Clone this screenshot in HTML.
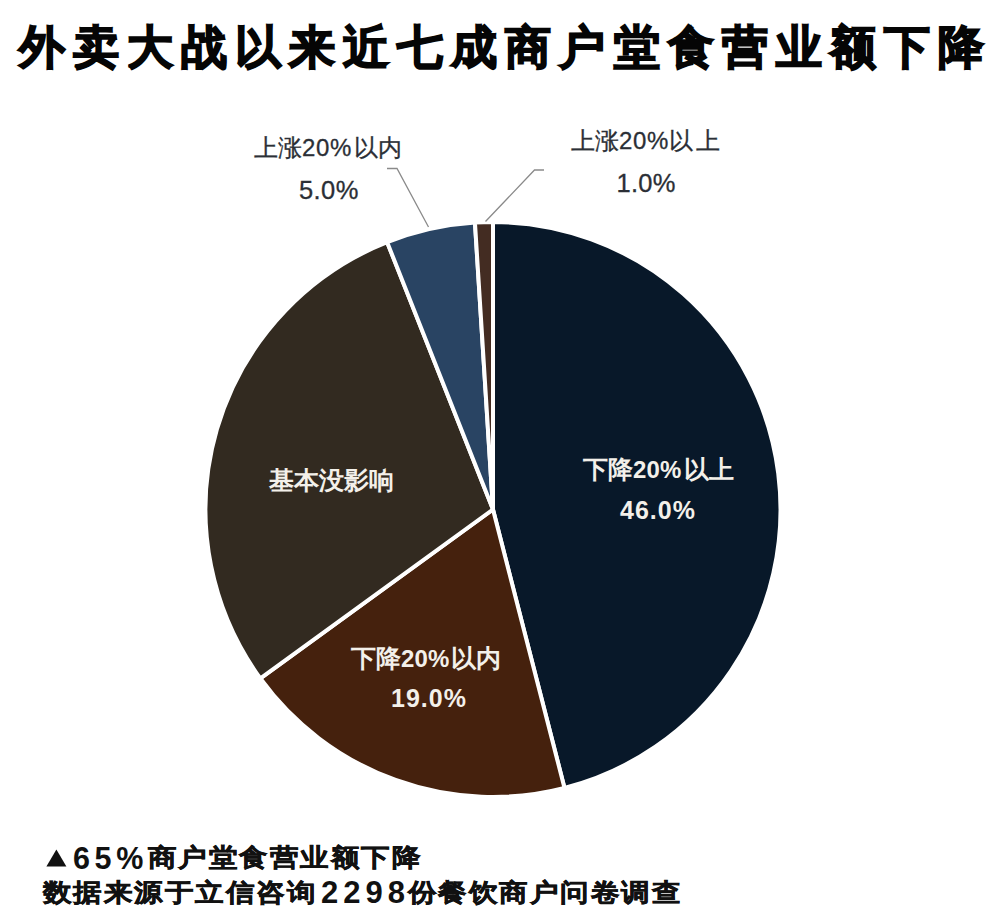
<!DOCTYPE html>
<html><head><meta charset="utf-8">
<style>
html,body{margin:0;padding:0;background:#fff;}
body{width:1000px;height:910px;position:relative;overflow:hidden;font-family:"Liberation Sans",sans-serif;}
.t{position:absolute;white-space:nowrap;line-height:1;}
#title{left:18.5px;top:24px;font-size:46px;letter-spacing:8.1px;font-weight:bold;color:#050505;-webkit-text-stroke:1.7px #050505;}
.lbl{color:#2b2f36;font-size:24px;-webkit-text-stroke:0.3px #2b2f36;}
.in{color:#f3f0ea;font-size:25px;font-weight:bold;}
.fd{color:#111;font-size:30.5px;font-weight:bold;}
.f{color:#111;font-size:25px;font-weight:bold;-webkit-text-stroke:0.5px #111;letter-spacing:1.7px;transform:scaleX(1.14);transform-origin:0 0;}
svg{position:absolute;left:0;top:0;}
</style></head><body>
<svg width="1000" height="910" viewBox="0 0 1000 910">
<g stroke="#fff" stroke-width="4" stroke-linejoin="round">
<path d="M493,509.5 L493.00,222.00 A287.5,287.5 0 0 1 564.50,787.97 Z" fill="#081829"/>
<path d="M493,509.5 L564.50,787.97 A287.5,287.5 0 0 1 260.41,678.49 Z" fill="#45210d"/>
<path d="M493,509.5 L260.41,678.49 A287.5,287.5 0 0 1 387.16,242.19 Z" fill="#322a20"/>
<path d="M493,509.5 L387.16,242.19 A287.5,287.5 0 0 1 474.95,222.57 Z" fill="#294463"/>
<path d="M493,509.5 L474.95,222.57 A287.5,287.5 0 0 1 493.00,222.00 Z" fill="#432c22"/>
</g>
<g stroke="#8a8a8a" stroke-width="1.3" fill="none">
<polyline points="387,168.5 397,168.5 428.5,227"/>
<polyline points="544,170 534.5,170 485.5,221.5"/>
</g>
<polygon points="46.4,866.4 56.4,849.6 66.4,866.4" fill="#111"/>
</svg>
<div class="t" id="title">外卖大战以来近七成商户堂食营业额下降</div>
<div class="t lbl" style="left:254px;top:136px;">上涨<span style="letter-spacing:0.6px">20%</span><span style="margin-left:2px;letter-spacing:0.5px">以内</span></div>
<div class="t lbl" style="left:299px;top:177.5px;font-size:25.5px;letter-spacing:0.4px;">5.0%</div>
<div class="t lbl" style="left:571px;top:129px;">上涨<span style="letter-spacing:0.6px">20%</span><span style="margin-left:0px;letter-spacing:3px">以上</span></div>
<div class="t lbl" style="left:616.5px;top:170.5px;font-size:25.5px;letter-spacing:0.3px;">1.0%</div>
<div class="t in" style="left:583px;top:457px;">下降<span style="font-size:24px;letter-spacing:0.2px">20%</span><span style="margin-left:2px">以上</span></div>
<div class="t in" style="left:620px;top:498px;letter-spacing:1px;">46.0%</div>
<div class="t in" style="left:269px;top:468px;">基本没影响</div>
<div class="t in" style="left:351px;top:646px;">下降<span style="font-size:24px;letter-spacing:0.2px">20%</span><span style="margin-left:1px">以内</span></div>
<div class="t in" style="left:391px;top:686px;letter-spacing:1px;">19.0%</div>
<div class="t fd" style="left:73px;top:843px;letter-spacing:4.6px;">65%</div>
<div class="t f" style="left:148px;top:845px;">商户堂食营业额下降</div>
<div class="t f" style="left:43px;top:880px;">数据来源于立信咨询</div>
<div class="t fd" style="left:321px;top:877px;letter-spacing:5px;font-size:31px;">2298</div>
<div class="t f" style="left:408px;top:880px;">份餐饮商户问卷调查</div>
</body></html>
